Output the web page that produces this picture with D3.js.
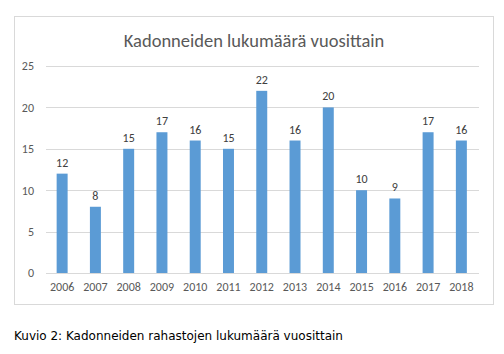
<!DOCTYPE html>
<html>
<head>
<meta charset="utf-8">
<script src="https://cdn.jsdelivr.net/npm/d3@7"></script>
<style>
    body { margin: 0; background: #fff; }
    svg text { font-family: Carlito, Calibri, "Liberation Sans", sans-serif; }
</style>
</head>
<body>
<div id="chart"></div>
<script>
// data
const years = ["2006", "2007", "2008", "2009", "2010", "2011", "2012", "2013", "2014", "2015", "2016", "2017", "2018"]
const counts = [12, 8, 15, 17, 16, 15, 22, 16, 20, 10, 9, 17, 16]
const yTicks = [0, 5, 10, 15, 20, 25]
const title = "Kadonneiden lukumäärä vuosittain"
const caption = "Kuvio 2: Kadonneiden rahastojen lukumäärä vuosittain"

const W = 504, H = 354

let svg = d3.select("#chart").append("svg")
    .attr("width", W)
    .attr("height", H)

// chart frame
svg.append("rect")
    .attr("x", 14.5).attr("y", 16.5)
    .attr("width", 479).attr("height", 288)
    .attr("fill", "#fff")
    .attr("stroke", "#d9d9d9")

let x = d3.scaleBand().domain(years).range([45.5, 478]).paddingInner(0.67).paddingOuter(0.335)
let y = d3.scaleLinear().domain([0, 25]).range([273, 66])

// gridlines
svg.append("g").selectAll("line")
    .data(yTicks)
    .join("line")
    .attr("x1", 46).attr("x2", 479)
    .attr("y1", d => Math.round(y(d)) + 0.5)
    .attr("y2", d => Math.round(y(d)) + 0.5)
    .attr("stroke", "#d9d9d9")

// y axis labels
let yAxis = d3.axisLeft(y).tickValues(yTicks).tickSize(0).tickPadding(0)
svg.append("g")
    .attr("transform", "translate(34,0)")
    .call(yAxis)
    .call(g => g.select(".domain").remove())
    .selectAll("text")
    .attr("font-size", 12)
    .attr("fill", "#595959")
    .attr("font-family", "Carlito, Calibri, sans-serif")

// x axis labels
let xAxis = d3.axisBottom(x).tickSize(0).tickPadding(9)
svg.append("g")
    .attr("transform", "translate(0,273)")
    .call(xAxis)
    .call(g => g.select(".domain").remove())
    .selectAll("text")
    .attr("font-size", 12)
    .attr("fill", "#595959")
    .attr("font-family", "Carlito, Calibri, sans-serif")

// bars
svg.append("g").selectAll("rect")
    .data(counts)
    .join("rect")
    .attr("x", (d, i) => x(years[i]))
    .attr("width", x.bandwidth())
    .attr("y", d => y(d))
    .attr("height", d => y(0) - y(d))
    .attr("fill", "#5b9bd5")

// value labels
svg.append("g").selectAll("text")
    .data(counts)
    .join("text")
    .attr("x", (d, i) => x(years[i]) + x.bandwidth() / 2)
    .attr("y", d => y(d) - 7)
    .attr("text-anchor", "middle")
    .attr("font-size", 12)
    .attr("fill", "#404040")
    .text(d => d)

// title
svg.append("text")
    .attr("x", 254).attr("y", 47)
    .attr("text-anchor", "middle")
    .attr("font-size", 18.5)
    .attr("fill", "#595959")
    .text(title)

// caption below the chart
svg.append("text")
    .attr("x", 14).attr("y", 340)
    .attr("font-size", 12)
    .attr("fill", "#000")
    .style("font-family", "'DejaVu Sans', Tahoma, sans-serif")
    .text(caption)
</script>
</body>
</html>
